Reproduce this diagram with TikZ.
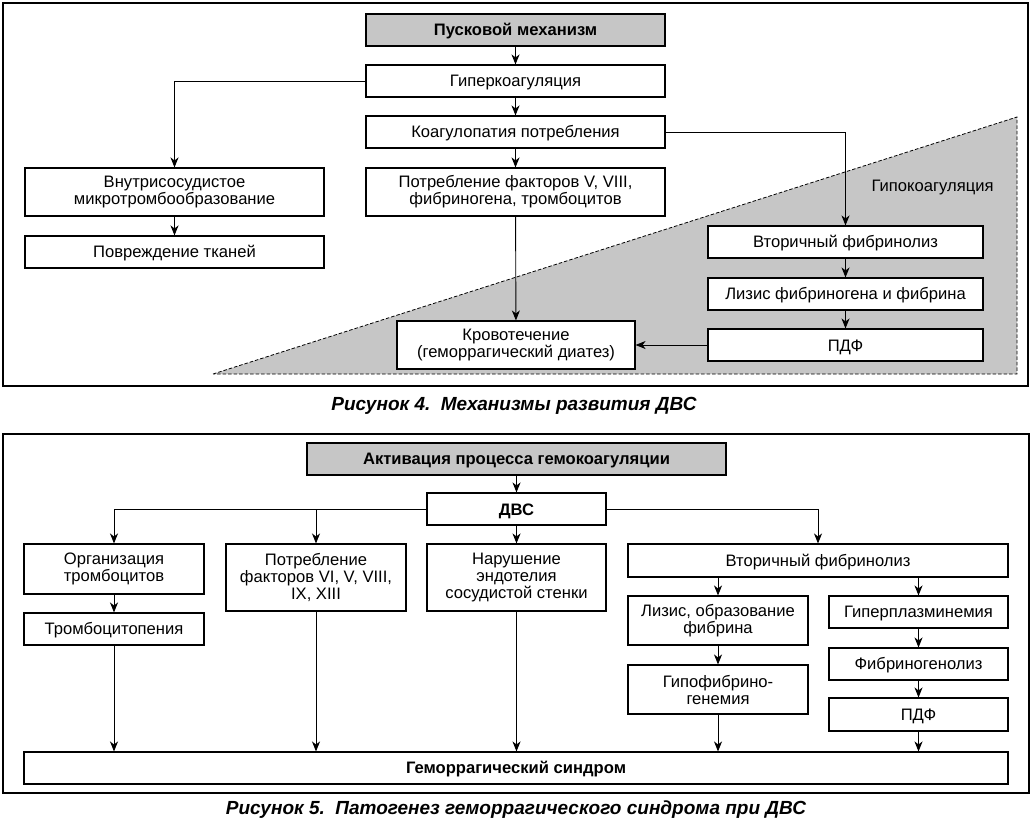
\documentclass[tikz,border=0pt]{standalone}
\usepackage{fontspec}
\setmainfont{Liberation Sans}
\usetikzlibrary{arrows.meta}
\definecolor{boxgray}{RGB}{198,198,198}
\begin{document}
\begin{tikzpicture}[x=1pt,y=-1pt,
  box/.style={draw, fill=white, line width=1.1pt, inner sep=0pt, align=center,
    font=\fontsize{16.6}{17}\selectfont, execute at begin node={\rule{0pt}{15.4pt}}},
  hbox/.style={box, fill=boxgray, font=\fontsize{16.6}{17}\selectfont\bfseries},
  bbox/.style={box, font=\fontsize{16.6}{17}\selectfont\bfseries},
  arr/.style={line width=0.9pt, -{Stealth[length=10pt,width=8pt,inset=3pt]}},
  frame/.style={line width=1.4pt},
  caption/.style={font=\fontsize{19}{22}\selectfont\bfseries\itshape}]
\useasboundingbox (0,0) rectangle (1033,825);
% ---------- Figure 4 ----------
\draw[frame] (3,3) rectangle (1028,386);
\fill[boxgray] (213,374) -- (1017,117) -- (1017,374) -- cycle;
\draw[line width=0.8pt, dash pattern=on 3.5pt off 2pt] (213,374) -- (1017,117) -- (1017,374) -- cycle;
\node[font=\fontsize{16.6}{17}\selectfont, anchor=east] (hypo) at (997,188) {Гипокоагуляция};

\node[hbox, minimum width=299, minimum height=32] (pusk) at (515.5,30) {Пусковой механизм};
\node[box, minimum width=299, minimum height=32] (giper) at (515.5,81) {Гиперкоагуляция};
\node[box, minimum width=299, minimum height=32] (koag) at (515.5,132) {Коагулопатия потребления};
\node[box, minimum width=299, minimum height=48] (potr) at (515.5,192) {Потребление факторов V, VIII,\\фибриногена, тромбоцитов};
\node[box, minimum width=299, minimum height=48] (vnutri) at (174.5,192) {Внутрисосудистое\\микротромбообразование};
\node[box, minimum width=299, minimum height=32] (povr) at (174.5,252) {Повреждение тканей};
\node[box, minimum width=238, minimum height=48] (krov) at (516,345) {Кровотечение\\(геморрагический диатез)};
\node[box, minimum width=275, minimum height=32] (vtor) at (845.5,242) {Вторичный фибринолиз};
\node[box, minimum width=275, minimum height=32] (lizis) at (845.5,294) {Лизис фибриногена и фибрина};
\node[box, minimum width=275, minimum height=32] (pdf) at (845.5,345) {ПДФ};

\draw[arr] (pusk) -- (giper);
\draw[arr] (giper) -- (koag);
\draw[arr] (koag) -- (potr);
\draw[arr] (giper.west) -| (vnutri.north);
\draw[arr] (vnutri) -- (povr);
\draw[arr] (potr) -- (krov);
\draw[arr] (koag.east) -| (vtor.north);
\draw[arr] (vtor) -- (lizis);
\draw[arr] (lizis) -- (pdf);
\draw[arr] (pdf) -- (krov);

\node[caption] (cap4) at (514,406) {Рисунок 4.\ \ Механизмы развития ДВС};

% ---------- Figure 5 ----------
\draw[frame] (3,434) rectangle (1029,793);
\node[hbox, minimum width=419, minimum height=32] (aktiv) at (516.5,459) {Активация процесса гемокоагуляции};
\node[bbox, minimum width=179, minimum height=32] (dvs) at (516.5,509) {ДВС};
\node[box, minimum width=180, minimum height=50] (org) at (114,569) {Организация\\тромбоцитов};
\node[box, minimum width=180, minimum height=32] (trom) at (114,629) {Тромбоцитопения};
\node[box, minimum width=180, minimum height=67] (potr2) at (316,577.5) {Потребление\\факторов VI, V, VIII,\\IX, XIII};
\node[box, minimum width=179, minimum height=67] (narush) at (516.5,577.5) {Нарушение\\эндотелия\\сосудистой стенки};
\node[box, minimum width=380, minimum height=33] (vtor2) at (818,560.5) {Вторичный фибринолиз};
\node[box, minimum width=180, minimum height=49] (lizis2) at (718,620.5) {Лизис, образование\\фибрина};
\node[box, minimum width=180, minimum height=49] (gipo) at (718,689.5) {Гипофибрино-\\генемия};
\node[box, minimum width=179, minimum height=32] (giperpl) at (918.5,612) {Гиперплазминемия};
\node[box, minimum width=179, minimum height=32] (fibrg) at (918.5,664) {Фибриногенолиз};
\node[box, minimum width=179, minimum height=33] (pdf2) at (918.5,714.5) {ПДФ};
\node[bbox, minimum width=984, minimum height=32] (gem) at (516,768) {Геморрагический синдром};

\draw[arr] (aktiv) -- (dvs);
\draw[arr] (dvs.west) -| (org.north);
\draw[arr] (potr2.north |- dvs.west) -- (potr2.north);
\draw[arr] (dvs) -- (narush);
\draw[arr] (dvs.east) -| (vtor2.north);
\draw[arr] (org) -- (trom);
\draw[arr] (lizis2.north |- vtor2.south) -- (lizis2.north);
\draw[arr] (giperpl.north |- vtor2.south) -- (giperpl.north);
\draw[arr] (lizis2) -- (gipo);
\draw[arr] (giperpl) -- (fibrg);
\draw[arr] (fibrg) -- (pdf2);
\draw[arr] (trom.south) -- (trom.south |- gem.north);
\draw[arr] (potr2.south) -- (potr2.south |- gem.north);
\draw[arr] (narush.south) -- (narush.south |- gem.north);
\draw[arr] (gipo.south) -- (gipo.south |- gem.north);
\draw[arr] (pdf2.south) -- (pdf2.south |- gem.north);

\node[caption] (cap5) at (516,810) {Рисунок 5.\ \ Патогенез геморрагического синдрома при ДВС};
\end{tikzpicture}
\end{document}
